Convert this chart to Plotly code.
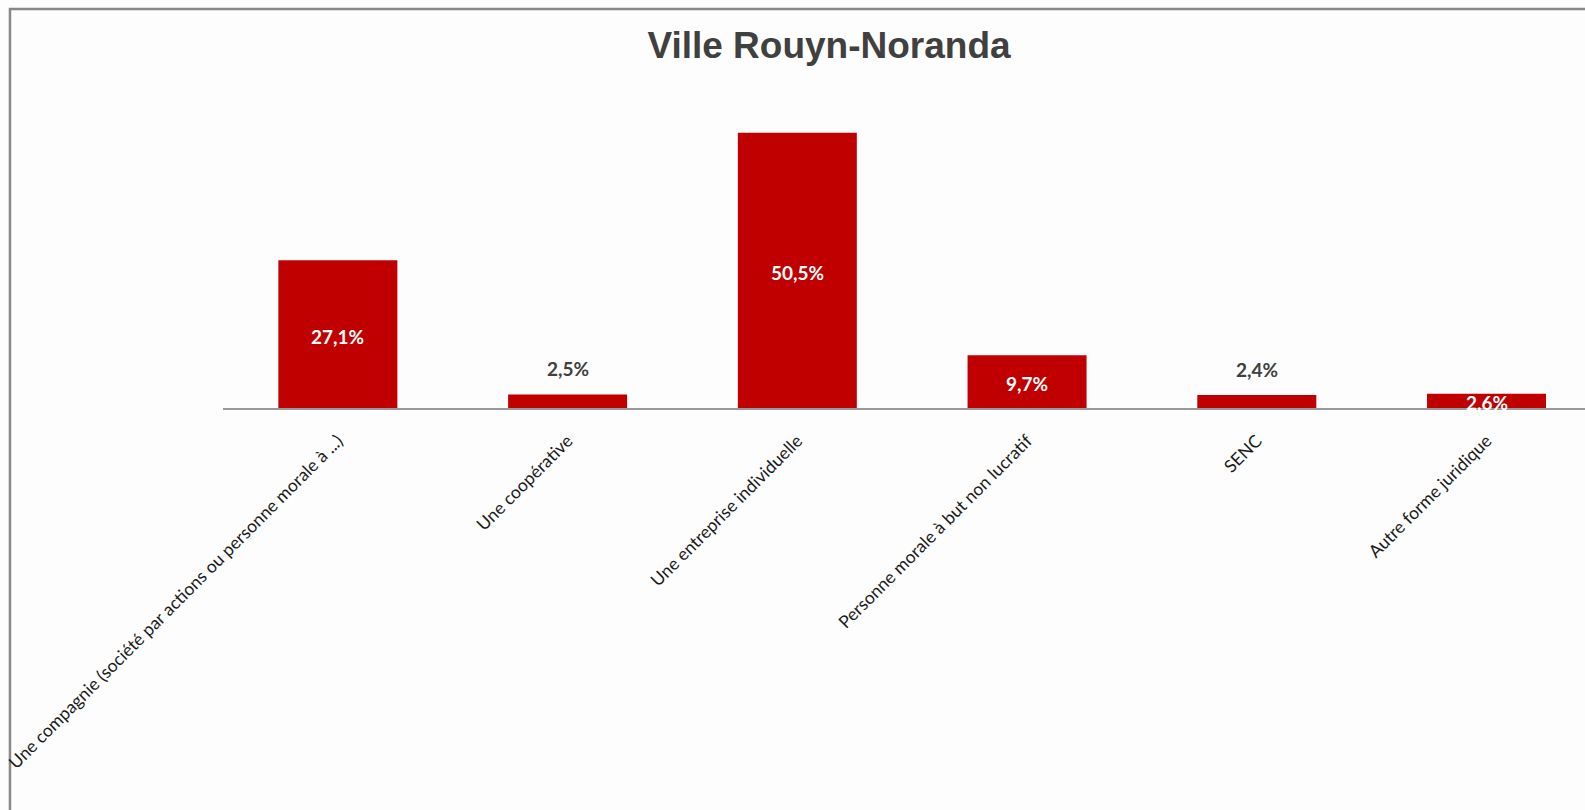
import plotly.graph_objects as go

categories = [
    "Une compagnie (société par actions ou personne morale à ...)",
    "Une coopérative",
    "Une entreprise individuelle",
    "Personne morale à but non lucratif",
    "SENC",
    "Autre forme juridique",
]
values = [27.1, 2.5, 50.5, 9.7, 2.4, 2.6]
labels = ["27,1%", "2,5%", "50,5%", "9,7%", "2,4%", "2,6%"]
inside = [True, False, True, True, False, True]

W, H = 1585, 810
left_px, top_px, bottom_px = 222.6, 80.6, 408.0
cat_w = 229.8
right_extent = -0.5 + (W - left_px) / cat_w

fig = go.Figure()
fig.add_trace(go.Bar(
    x=list(range(len(categories))),
    y=values,
    marker=dict(color="#C00000", line=dict(width=0)),
    width=0.518,
    hoverinfo="skip",
))

for i, (v, lab, ins) in enumerate(zip(values, labels, inside)):
    if ins:
        fig.add_annotation(x=i, y=v / 2, text="<b>%s</b>" % lab, showarrow=False,
                           font=dict(family="Lato, Carlito, sans-serif", size=19, color="white"),
                           xanchor="center", yanchor="middle", yshift=-2)
    else:
        fig.add_annotation(x=i, y=v, text="<b>%s</b>" % lab, showarrow=False,
                           font=dict(family="Lato, Carlito, sans-serif", size=19, color="#404040"),
                           xanchor="center", yanchor="bottom", yshift=12)

fig.update_layout(
    width=W, height=H,
    margin=dict(l=left_px, r=0, t=top_px, b=H - bottom_px, pad=0),
    paper_bgcolor="#FDFDFD",
    plot_bgcolor="#FDFDFD",
    showlegend=False,
    title=dict(text="<b>Ville Rouyn-Noranda</b>", x=(829) / W, xanchor="center",
               y=1 - 45 / H, yanchor="middle",
               font=dict(family="Liberation Sans, Arial, sans-serif", size=37, color="#404040")),
    xaxis=dict(
        range=[-0.5, right_extent],
        tickmode="array",
        tickvals=list(range(len(categories))),
        ticktext=categories,
        tickangle=-45,
        ticks="",
        showline=True, linecolor="#999999", linewidth=1.5,
        showgrid=False, zeroline=False,
        tickfont=dict(family="Lato, Carlito, sans-serif", size=17.5, color="#1a1a1a"),
        ticklabelstandoff=14,
    ),
    yaxis=dict(
        range=[0, 60],
        visible=False,
        showgrid=False, zeroline=False,
    ),
)

# chart border (top and left edges visible in the crop)
fig.add_shape(type="rect", xref="paper", yref="paper",
              x0=(9.5 - left_px) / (W - left_px), x1=(W + 20 - left_px) / (W - left_px),
              y0=-(H + 20 - bottom_px) / (bottom_px - top_px),
              y1=1 + (top_px - 8.5) / (bottom_px - top_px),
              line=dict(color="#888888", width=2.5), layer="below")

fig.write_html("out.html", config={"displayModeBar": False},
               post_script="document.body.style.margin='0';document.body.style.overflow='hidden';")
